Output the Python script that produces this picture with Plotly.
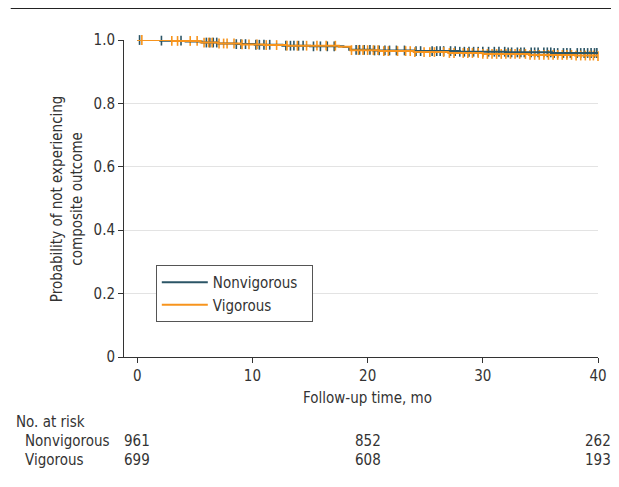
import plotly.graph_objects as go

# Kaplan-Meier step curves (time in months, survival probability)
nonvig_t = [0, 2.0, 4.2, 5.6, 7.0, 8.6, 10.2, 12.6, 15.0, 17.9, 18.4, 20.5, 24.0, 28.0, 32.0, 36.0, 40.0]
nonvig_s = [1.0, 0.998, 0.995, 0.992, 0.989, 0.987, 0.985, 0.982, 0.980, 0.978, 0.969, 0.967, 0.965, 0.963, 0.961, 0.959, 0.958]
vig_t = [0, 3.0, 5.5, 7.0, 9.0, 11.0, 13.0, 17.5, 18.5, 21.0, 24.0, 27.0, 30.0, 34.0, 38.0, 40.0]
vig_s = [1.0, 0.997, 0.992, 0.989, 0.986, 0.984, 0.982, 0.979, 0.968, 0.965, 0.962, 0.959, 0.956, 0.953, 0.951, 0.949]

# Censoring times (tick marks)
nonvig_cens = [0.2, 2.1, 3.8, 6.0, 6.3, 6.6, 6.9, 8.6, 9.0, 9.4, 10.3, 10.6, 11.0, 11.5, 12.9, 13.3, 13.6,
               14.0, 14.4, 15.3, 15.9, 16.5, 17.1, 19.0, 19.3, 19.7, 20.2, 20.6, 21.0, 21.5, 21.9, 22.5,
               23.2, 24.2, 24.6, 25.6, 26.0, 26.3, 26.6, 27.2, 27.6, 28.0, 28.4, 28.8, 29.2, 29.6, 30.0,
               30.5, 31.0, 31.4, 31.9, 32.2, 32.5, 33.0, 33.3, 33.6, 34.2, 34.5, 34.8, 35.3, 35.6, 35.9,
               36.2, 36.5, 37.0, 37.3, 37.6, 38.2, 38.5, 38.8, 39.1, 39.4, 39.7, 39.9]
vig_cens = [0.4, 3.0, 3.5, 4.6, 5.2, 5.8, 6.2, 6.5, 7.1, 7.5, 7.8, 8.4, 9.1, 9.7, 10.4, 11.2, 12.1, 13.0,
            13.9, 14.7, 15.6, 16.4, 17.2, 18.6, 19.2, 19.6, 20.0, 20.5, 20.9, 21.4, 21.8, 22.6, 23.3,
            23.7, 24.1, 24.9, 25.4, 25.8, 26.6, 27.1, 27.5, 28.3, 28.7, 29.1, 29.6, 30.0, 30.4, 30.8,
            31.2, 31.6, 32.0, 32.4, 32.8, 33.2, 33.7, 34.1, 34.5, 34.9, 35.3, 35.7, 36.1, 36.5, 36.9,
            37.3, 37.7, 38.1, 38.5, 38.9, 39.3, 39.6, 40.0]

groups = ["Nonvigorous", "Vigorous"]
colors = ["#2b5566", "#f7941d"]

# Number at risk
risk_times = [0, 20, 40]
risk_nonvig = [961, 852, 262]
risk_vig = [699, 608, 193]

FONT = "DejaVu Sans Condensed, Liberation Sans Narrow, sans-serif"
FS = 15
TXT = "#333"


def surv_at(ts, ss, t):
    v = ss[0]
    for ti, si in zip(ts, ss):
        if ti <= t:
            v = si
    return v


fig = go.Figure()
series = [(nonvig_t, nonvig_s, nonvig_cens), (vig_t, vig_s, vig_cens)]
for (ts, ss, cs), name, col in zip(series, groups, colors):
    fig.add_trace(go.Scatter(
        x=cs, y=[surv_at(ts, ss, c) for c in cs], mode="markers",
        marker=dict(symbol="line-ns", size=7, line=dict(width=1.6, color=col), color=col),
        showlegend=False, hoverinfo="skip", cliponaxis=False))
for (ts, ss, cs), name, col in zip(series, groups, colors):
    fig.add_trace(go.Scatter(
        x=ts, y=ss, mode="lines", line=dict(shape="hv", color=col, width=2),
        name=name + "\u00a0\u00a0", hovertemplate=name + ": %{y:.3f}<extra></extra>",
        cliponaxis=False))

annotations = [
    dict(text="Probability of not experiencing<br>composite outcome", xref="paper", yref="paper",
         x=-0.121, y=0.5, textangle=-90, showarrow=False, font=dict(size=FS, color=TXT),
         xanchor="center", yanchor="middle"),
    dict(text="Follow-up time, mo", xref="paper", yref="paper", x=0.514, y=-0.129,
         showarrow=False, font=dict(size=FS, color=TXT), xanchor="center", yanchor="middle"),
    dict(text="No. at risk", xref="paper", yref="paper", x=(13 - 124) / 477, y=(357 - 422) / 317,
         showarrow=False, font=dict(size=FS, color=TXT), xanchor="left", yanchor="middle"),
]
for row, (name, vals) in enumerate(zip(groups, [risk_nonvig, risk_vig])):
    ypix = 441 + 19 * row
    annotations.append(dict(text=name, xref="paper", yref="paper", x=(22 - 124) / 477,
                            y=(357 - ypix) / 317, showarrow=False, font=dict(size=FS, color=TXT),
                            xanchor="left", yanchor="middle"))
    for t, v in zip(risk_times, vals):
        annotations.append(dict(text=str(v), xref="x", yref="paper", x=t, y=(357 - ypix) / 317,
                                showarrow=False, font=dict(size=FS, color=TXT),
                                xanchor="center", yanchor="middle"))

# page body has an 8px margin: figure is offset by 8px, so shrink it accordingly
fig.update_layout(
    width=611, height=479,
    margin=dict(l=116, r=18, t=32, b=130),
    paper_bgcolor="white", plot_bgcolor="white",
    font=dict(family=FONT, size=FS, color=TXT),
    xaxis=dict(range=[-1.15, 40], tickvals=[0, 10, 20, 30, 40], showgrid=False, zeroline=False,
               showline=True, linecolor="#333", linewidth=1, ticks="outside", ticklen=5,
               tickcolor="#333", tickfont=dict(size=FS, color=TXT)),
    yaxis=dict(range=[0, 1.0], tickvals=[0, 0.2, 0.4, 0.6, 0.8, 1.0],
               ticktext=["0", "0.2", "0.4", "0.6", "0.8", "1.0"], showgrid=True, gridcolor="#e3e3e3",
               gridwidth=1, zeroline=False, showline=True, linecolor="#333", linewidth=1,
               ticks="outside", ticklen=5, tickcolor="#333", tickfont=dict(size=FS, color=TXT)),
    legend=dict(x=(156 - 124) / 477, y=(357 - 265) / 317, xanchor="left", yanchor="top",
                bordercolor="#555", borderwidth=1, bgcolor="white", itemwidth=46,
                font=dict(size=FS, color=TXT), tracegroupgap=0),
    annotations=annotations,
    shapes=[dict(type="line", xref="paper", yref="paper", x0=(10 - 124) / 477, x1=1.1,
                 y0=(357 - 8) / 317, y1=(357 - 8) / 317, line=dict(color="#222", width=2))],
)

fig.write_html("out.html")
